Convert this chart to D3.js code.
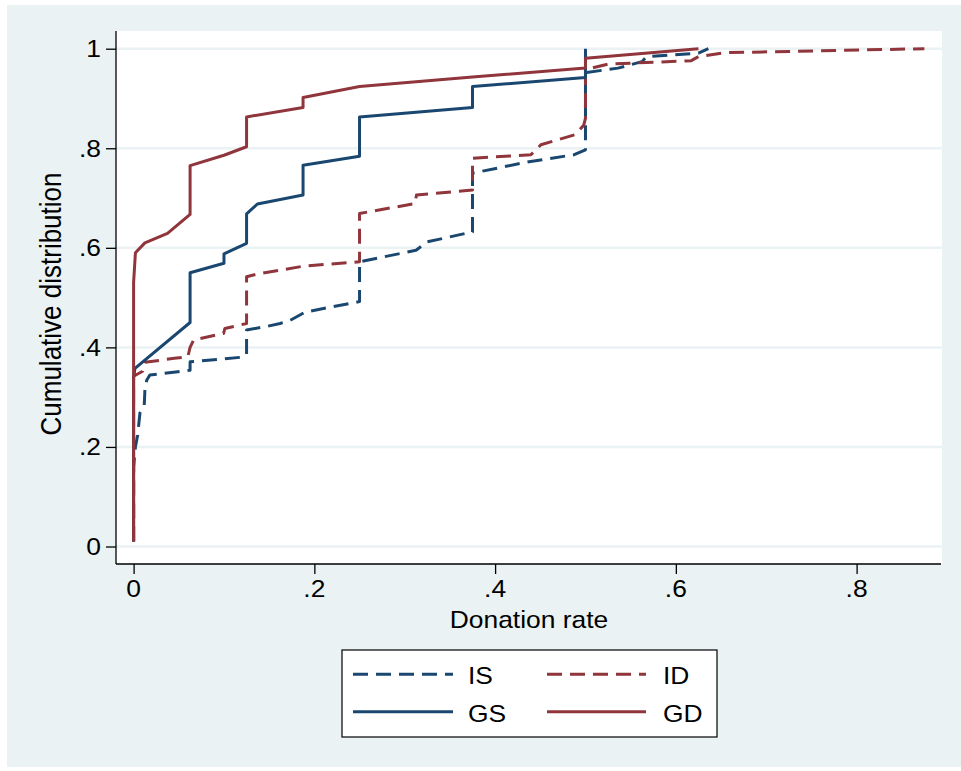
<!DOCTYPE html>
<html>
<head>
<meta charset="utf-8">
<script src="https://cdn.jsdelivr.net/npm/d3@7"></script>
<style>
  html, body { margin: 0; padding: 0; background: #ffffff; }
  svg { display: block; }
</style>
</head>
<body>
<script>
// ---- Data ----
const seriesNames = ["IS", "ID", "GS", "GD"];
const xTicks = [0, 0.2, 0.4, 0.6, 0.8];
const xTickLabels = ["0", ".2", ".4", ".6", ".8"];
const yTicks = [0, 0.2, 0.4, 0.6, 0.8, 1];
const yTickLabels = ["0", ".2", ".4", ".6", ".8", "1"];

const dataIS = [[0,0.01],[0,0.16],[0.002,0.20],[0.0045,0.224],[0.007,0.268],[0.0118,0.284],[0.0125,0.314],[0.0145,0.334],[0.018,0.3445],[0.049,0.351],[0.0625,0.354],[0.0625,0.371],[0.118,0.380],[0.125,0.385],[0.125,0.435],[0.147,0.442],[0.162,0.448],[0.173,0.454],[0.19,0.471],[0.25,0.492],[0.25,0.572],[0.3125,0.595],[0.325,0.612],[0.375,0.632],[0.375,0.750],[0.4375,0.773],[0.4875,0.787],[0.5,0.797],[0.5,0.952],[0.536,0.961],[0.5625,0.974],[0.5675,0.984],[0.625,0.991],[0.636,1.0]];
const dataID = [[0,0.01],[0,0.342],[0.01,0.352],[0.0125,0.37],[0.045,0.378],[0.06,0.381],[0.0625,0.40],[0.0665,0.415],[0.0996,0.428],[0.101,0.438],[0.125,0.448],[0.125,0.542],[0.136,0.547],[0.1875,0.563],[0.25,0.572],[0.25,0.669],[0.3115,0.689],[0.313,0.706],[0.375,0.716],[0.375,0.780],[0.4396,0.787],[0.4507,0.807],[0.488,0.827],[0.498,0.846],[0.5,0.86],[0.5,0.958],[0.525,0.969],[0.617,0.976],[0.625,0.984],[0.654,0.992],[0.875,1.0]];
const dataGS = [[0,0.01],[0,0.34],[0.0015,0.358],[0.0625,0.45],[0.0625,0.55],[0.1,0.569],[0.1,0.588],[0.125,0.609],[0.125,0.668],[0.137,0.688],[0.1875,0.706],[0.1875,0.766],[0.25,0.784],[0.25,0.863],[0.375,0.882],[0.375,0.924],[0.5,0.942],[0.5,1.0]];
const dataGD = [[0,0.01],[0,0.53],[0.002,0.59],[0.0125,0.61],[0.0375,0.629],[0.0625,0.667],[0.0625,0.765],[0.1,0.786],[0.125,0.803],[0.125,0.863],[0.1875,0.882],[0.1875,0.902],[0.25,0.924],[0.375,0.943],[0.5,0.961],[0.5,0.981],[0.625,1.0]];

// ---- Styles ----
const NAVY = "#1a476f", MAROON = "#90353b", BG = "#eaf2f3";
const styles = {
  IS: { color: NAVY, dash: "15,8" },
  ID: { color: MAROON, dash: "15,8" },
  GS: { color: NAVY, dash: null },
  GD: { color: MAROON, dash: null }
};
const seriesData = { IS: dataIS, ID: dataID, GS: dataGS, GD: dataGD };

const W = 961, H = 771;
const FONT = "'Liberation Sans', Arial, Helvetica, sans-serif";
const FS = 24, SX = 1.1;

const svg = d3.select("body").append("svg").attr("width", W).attr("height", H);

// graph region
svg.append("rect").attr("x", 7).attr("y", 5).attr("width", W - 7).attr("height", 762).attr("fill", BG);

// plot region
const plot = { left: 116, right: 942, top: 31, bottom: 564 };
svg.append("rect").attr("x", plot.left).attr("y", plot.top)
  .attr("width", plot.right - plot.left).attr("height", plot.bottom - plot.top).attr("fill", "#fff");

const x = d3.scaleLinear().domain([0, 0.8]).range([133.6, 856.6]);
const y = d3.scaleLinear().domain([0, 1]).range([546.5, 48.7]);

// gridlines
svg.append("g").selectAll("line").data(yTicks).join("line")
  .attr("x1", plot.left).attr("x2", plot.right)
  .attr("y1", d => y(d)).attr("y2", d => y(d))
  .attr("stroke", BG).attr("stroke-width", 2.5);

function txt(px, py, s, anchor, rot, size) {
  const t = svg.append("text")
    .attr("transform", `translate(${px},${py}) scale(${SX},1)` + (rot ? ` rotate(${rot})` : ""))
    .attr("text-anchor", anchor)
    .attr("font-family", FONT).attr("font-size", size || FS).attr("fill", "#000")
    .text(s);
  return t;
}

// axes
const yAxis = d3.axisLeft(y).tickValues(yTicks).tickSize(10).tickFormat(() => "");
const gy = svg.append("g").attr("transform", `translate(${plot.left},0)`).call(yAxis);
gy.select(".domain").attr("d", `M0,${plot.top}V${plot.bottom}`);
const xAxis = d3.axisBottom(x).tickValues(xTicks).tickSize(10).tickFormat(() => "");
const gx = svg.append("g").attr("transform", `translate(0,${plot.bottom})`).call(xAxis);
gx.select(".domain").attr("d", `M${plot.left},0H${plot.right - 1}`);
[gx, gy].forEach(g => {
  g.selectAll("path,line").attr("stroke", "#000").attr("stroke-width", 1.3);
});

yTicks.forEach((v, i) => txt(101, y(v) + 8.5, yTickLabels[i], "end"));
xTicks.forEach((v, i) => txt(x(v), 597, xTickLabels[i], "middle"));

txt(529, 628, "Donation rate", "middle");
txt(61, 304, "Cumulative distribution", "middle", -90, 26);

// curves
const line = d3.line().x(d => x(d[0])).y(d => y(d[1]));
seriesNames.forEach(name => {
  const st = styles[name];
  svg.append("path").datum(seriesData[name])
    .attr("d", line)
    .attr("fill", "none")
    .attr("stroke", st.color)
    .attr("stroke-width", 3)
    .attr("stroke-linejoin", "round")
    .attr("stroke-dasharray", st.dash);
});

// legend
svg.append("rect").attr("x", 342).attr("y", 650).attr("width", 375).attr("height", 87)
  .attr("fill", "#fff").attr("stroke", "#000").attr("stroke-width", 1.2);
const legendPos = {
  IS: { x1: 353, x2: 453, ly: 674.3, tx: 468, ty: 683.5 },
  ID: { x1: 547, x2: 646, ly: 674.3, tx: 663, ty: 683.5 },
  GS: { x1: 353, x2: 453, ly: 711.7, tx: 468, ty: 721.5 },
  GD: { x1: 547, x2: 646, ly: 711.7, tx: 663, ty: 721.5 }
};
seriesNames.forEach(name => {
  const p = legendPos[name], st = styles[name];
  svg.append("line").attr("x1", p.x1).attr("x2", p.x2).attr("y1", p.ly).attr("y2", p.ly)
    .attr("stroke", st.color).attr("stroke-width", 3).attr("stroke-dasharray", st.dash);
  txt(p.tx, p.ty, name, "start");
});
</script>
</body>
</html>
